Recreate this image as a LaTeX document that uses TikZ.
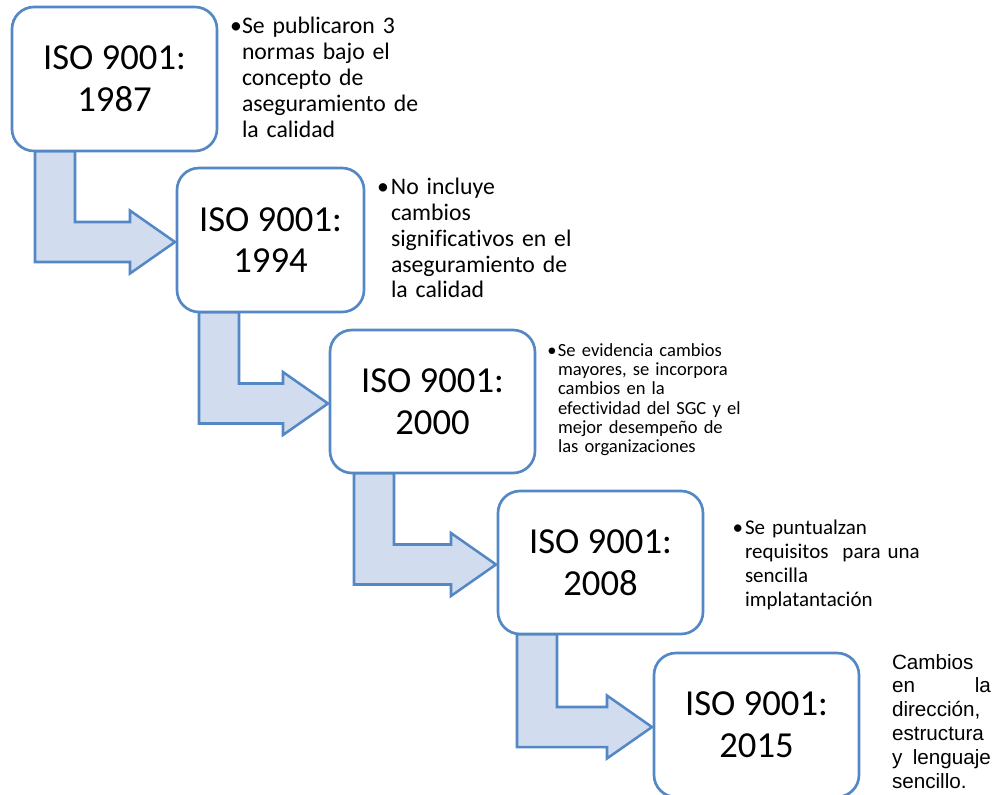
\documentclass[tikz,border=0pt]{standalone}
\usepackage{fontspec}
\setmainfont{Carlito}[Ligatures=NoCommon]
\newfontfamily\arialfont{Liberation Sans}
\usetikzlibrary{calc,backgrounds}
\definecolor{isoline}{RGB}{84,136,196}
\definecolor{isofill}{RGB}{209,220,238}
\tikzset{
  stdbox/.style={draw=isoline, line width=2pt, rounded corners=16.5pt, fill=white,
    inner sep=0pt, outer sep=0pt, align=center,
    font=\fontsize{27.5}{31.3}\selectfont},
  stepflow/.style={draw=isoline, line width=1.9pt, fill=isofill, line join=miter},
  note/.style={anchor=base west, inner sep=0pt, outer sep=0pt, align=left, text width=160pt},
}
% bent block arrow: down from the lower edge of #1, then right into #2 (#3 = bar offset)
\newcommand\stepconn[3]{%
  \draw[stepflow] let \p1=(#1.south west), \p2=(#2.west) in
    (\x1+#3,\y1) -- (\x1+#3+30pt,\y1) -- (\x1+#3+30pt,\y2+13.5pt)
    -- (\x2-35.25pt,\y2+13.5pt) -- (\x2-35.25pt,\y2+22.1pt)
    -- (\x2-1.5pt,\y2-1.5pt) -- (\x2-35.25pt,\y2-25.1pt)
    -- (\x2-35.25pt,\y2-16.5pt) -- (\x1+#3,\y2-16.5pt) -- cycle;}
\begin{document}
\begin{tikzpicture}[x=0.75pt,y=-0.75pt]
\useasboundingbox (0,0) rectangle (999,794);

% version boxes
\node[stdbox, minimum width=153.75pt, minimum height=108pt] (b1) at (114.5,79) {ISO 9001:\\1987};
\node[stdbox, minimum width=140.25pt, minimum height=108pt] (b2) at (270.5,240) {ISO 9001:\\1994};
\node[stdbox, minimum width=153.75pt, minimum height=107.25pt] (b3) at (432.5,401.5) {ISO 9001:\\2000};
\node[stdbox, minimum width=153.75pt, minimum height=107.25pt] (b4) at (600.5,562.5) {ISO 9001:\\2008};
\node[stdbox, minimum width=153.75pt, minimum height=108pt] (b5) at (756.5,725) {ISO 9001:\\2015};

% step arrows behind the boxes
\begin{scope}[on background layer]
  \stepconn{b1}{b2}{17.25pt}
  \stepconn{b2}{b3}{16.5pt}
  \stepconn{b3}{b4}{18pt}
  \stepconn{b4}{b5}{14.25pt}
\end{scope}

% notes
\node[note, font=\fontsize{17.8}{19.6}\selectfont] (n1) at (242,33.3)
  {\llap{•}Se publicaron 3\\normas bajo el\\concepto de\\aseguramiento de\\la calidad};
\node[note, font=\fontsize{17.8}{19.4}\selectfont] (n2) at (391,194.5)
  {\llap{•\hspace{1.5pt}}No incluye\\cambios\\significativos en el\\aseguramiento de\\la calidad};
\node[note, font=\fontsize{13.9}{14.5}\selectfont] (n3) at (558,356)
  {\llap{•\hspace{1pt}}Se evidencia cambios\\mayores, se incorpora\\cambios en la\\efectividad del SGC y el\\mejor desempeño de\\las organizaciones};
\node[note, font=\fontsize{15.75}{18}\selectfont] (n4) at (745,534)
  {\llap{•\hspace{1.5pt}}Se puntualzan\\requisitos\ \ para una\\sencilla\\implatantación};
\node[note, text width=74.25pt, font=\arialfont\fontsize{15.5}{17.85}\selectfont] (n5) at (892,669)
  {Cambios\\en\hfill la\\dirección,\\estructura\\y\hfill lenguaje\\sencillo.};
\end{tikzpicture}
\end{document}
